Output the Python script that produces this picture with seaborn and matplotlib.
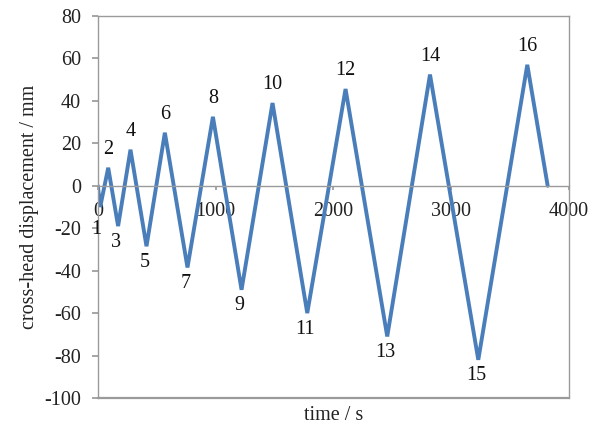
import matplotlib
matplotlib.use("Agg")
import matplotlib.pyplot as plt
import seaborn as sns
import pandas as pd

# Data
time_s = [0, 20, 88, 172, 277, 413, 569, 761, 977, 1220, 1483, 1778, 2103, 2457, 2820, 3230, 3646, 3819]
displacement_mm = [0, -10, 8.5, -19, 17, -28.5, 25, -38.5, 32.5, -49, 39, -60, 45.6, -71, 52.4, -82, 57, 0]
point_labels = ["", "1", "2", "3", "4", "5", "6", "7", "8", "9", "10", "11", "12", "13", "14", "15", "16", ""]
y_ticks = [-100, -80, -60, -40, -20, 0, 20, 40, 60, 80]
x_ticks = [0, 1000, 2000, 3000, 4000]

df = pd.DataFrame({"time": time_s, "disp": displacement_mm})

sns.set_theme(style="white")
plt.rcParams["font.family"] = ["Liberation Serif", "DejaVu Serif"]
plt.rcParams["axes.unicode_minus"] = False

FS = 14.5
fig = plt.figure(figsize=(5.93, 4.32), dpi=100)
ax = fig.add_axes([0.165, 0.0787, 0.7945, 0.8843])

line_color = "#4a7ebb"
sns.lineplot(data=df, x="time", y="disp", sort=False, color=line_color,
             linewidth=2.8, ax=ax, solid_joinstyle="miter")

ax.set_xlim(0, 4000)
ax.set_ylim(-100, 80)
ax.set_yticks(y_ticks)
ax.set_xticks(x_ticks)

gray = "#9a9a9a"
for s in ["left", "right", "top", "bottom"]:
    ax.spines[s].set_color(gray)
    ax.spines[s].set_linewidth(1.0)
    ax.spines[s].set_visible(True)
ax.spines["bottom"].set_position(("data", 0))
ax.axhline(-100, color=gray, linewidth=1.6, clip_on=False)

ax.tick_params(axis="y", which="both", direction="out", length=4.5, color=gray,
               labelsize=FS, pad=7.5, left=True)
ax.tick_params(axis="x", which="both", direction="out", length=3, color=gray,
               labelsize=FS, pad=9, bottom=True)
for lbl in ax.get_xticklabels() + ax.get_yticklabels():
    lbl.set_color("#222222")

ax.set_xlabel("time / s", fontsize=FS, color="#222222")
ax.set_ylabel("cross-head displacement / mm", fontsize=FS, color="#222222")
ax.xaxis.set_label_coords(0.5, -0.022)
ax.yaxis.set_label_coords(-0.125, 0.5)

# Point number labels
for i, (t, d, lab) in enumerate(zip(time_s, displacement_mm, point_labels)):
    if not lab:
        continue
    if lab == "1":
        off = (-4, -23)
    elif i % 2 == 0:
        off = (0, 18)
    else:
        off = (-2, -16)
    ax.annotate(lab, (t, d), xytext=off, textcoords="offset pixels",
                ha="center", va="center", fontsize=FS, color="#111111")

fig.savefig("out.png", dpi=100)
